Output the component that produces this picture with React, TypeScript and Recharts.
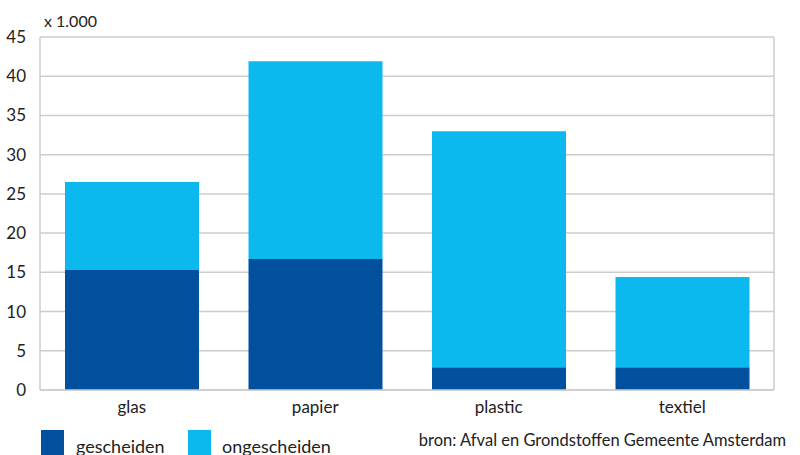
import { BarChart, Bar, XAxis, YAxis, CartesianGrid } from "recharts";

const categories = ["glas", "papier", "plastic", "textiel"];
const gescheiden = [15.3, 16.7, 2.9, 2.9];
const ongescheiden = [11.2, 25.2, 30.1, 11.5];
const yTicks = [0, 5, 10, 15, 20, 25, 30, 35, 40, 45];

const DARK = "#00509E";
const LIGHT = "#0CB9EE";
const GRID = "#CCCCCC";
const TEXT = "#222222";
const FONT = "Lato, 'Open Sans', sans-serif";

const data = categories.map((name, i) => ({
  name,
  gescheiden: gescheiden[i],
  ongescheiden: ongescheiden[i],
}));

export default function App() {
  return (
    <div
      style={{
        position: "absolute",
        left: 0,
        top: 0,
        width: 800,
        height: 455,
        overflow: "hidden",
        background: "#fff",
        fontFamily: FONT,
        color: TEXT,
      }}
    >
      <BarChart
        width={800}
        height={455}
        data={data}
        margin={{ top: 37, right: 25, left: 0, bottom: 0 }}
        barCategoryGap={25}
      >
        <CartesianGrid vertical={false} stroke={GRID} strokeWidth={1.5} />
        <XAxis
          dataKey="name"
          height={65}
          tickLine={false}
          axisLine={{ stroke: GRID, strokeWidth: 1.5 }}
          tick={{ fill: TEXT, fontSize: 17, fontFamily: FONT }}
          tickMargin={5}
        />
        <YAxis
          width={40}
          domain={[0, 45]}
          ticks={yTicks}
          interval={0}
          tickLine={false}
          axisLine={{ stroke: GRID, strokeWidth: 1.5 }}
          tick={{ fill: TEXT, fontSize: 17, fontFamily: FONT }}
          tickMargin={8}
        />
        <YAxis
          yAxisId="frame"
          orientation="right"
          width={1}
          tick={false}
          tickLine={false}
          axisLine={{ stroke: GRID, strokeWidth: 1.5 }}
        />
        <Bar dataKey="gescheiden" stackId="a" fill={DARK} isAnimationActive={false} />
        <Bar dataKey="ongescheiden" stackId="a" fill={LIGHT} isAnimationActive={false} />
      </BarChart>

      <div style={{ position: "absolute", left: 44, top: 11, fontSize: 16 }}>x 1.000</div>

      <div style={{ position: "absolute", left: 41, top: 430, width: 23, height: 26, background: DARK }} />
      <div style={{ position: "absolute", left: 76, top: 435, fontSize: 18 }}>gescheiden</div>
      <div style={{ position: "absolute", left: 188, top: 430, width: 23, height: 26, background: LIGHT }} />
      <div style={{ position: "absolute", left: 222, top: 435, fontSize: 18 }}>ongescheiden</div>

      <div style={{ position: "absolute", right: 14, top: 430, fontSize: 16.5 }}>
        bron: Afval en Grondstoffen Gemeente Amsterdam
      </div>
    </div>
  );
}
